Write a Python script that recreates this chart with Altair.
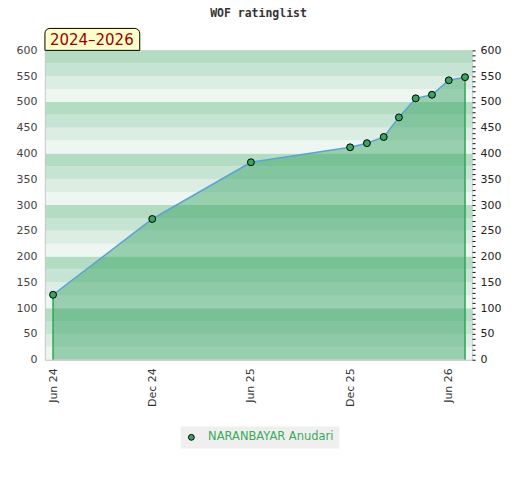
import altair as alt
import pandas as pd

# ---- data ----
dates = ["2024-06-01", "2024-12-01", "2025-06-01", "2025-12-01", "2026-01-01",
         "2026-02-01", "2026-03-01", "2026-04-01", "2026-05-01", "2026-06-01", "2026-07-01"]
ratings = [126, 273, 383, 412, 420, 432, 470, 507, 514, 542, 548]
player = "NARANBAYAR Anudari"
chart_title = "WOF ratinglist"
period_label = ["2024\u20132026"]
x_tick_dates = [(2024, 6), (2024, 12), (2025, 6), (2025, 12), (2026, 6)]
y_major = list(range(0, 601, 50))
y_minor = list(range(0, 601, 10))
band_starts = list(range(0, 600, 25))
band_shade_names = ["q0", "q1", "q2", "q3"]
band_shade_colors = ["#eef6f1", "#dcede3", "#c6e4d3", "#b3dcc3"]

W, H = 428, 310

df = pd.DataFrame({"date": dates, "rating": ratings, "player": player})
edges = df.iloc[[0, len(df) - 1]]
bands = pd.DataFrame({
    "lo": band_starts,
    "hi": [b + 25 for b in band_starts],
    "shade": [band_shade_names[(b // 25) % 4] for b in band_starts],
})
label_df = pd.DataFrame({"txt": period_label})

yscale = alt.Scale(domain=[0, 600], nice=False, zero=True)
xscale = alt.Scale(type="utc",
                   domain=[alt.DateTime(year=2024, month=5, date=17, utc=True),
                           alt.DateTime(year=2026, month=7, date=14, utc=True)])
xaxis = alt.Axis(values=[alt.DateTime(year=y, month=m, date=1, utc=True) for y, m in x_tick_dates],
                 format="%b %y", labelAngle=270, labelAlign="right", labelBaseline="middle",
                 ticks=False, domain=True, domainColor="#cccccc", grid=False,
                 labelPadding=8, labelFontSize=11, labelColor="#333333",
                 labelFont="DejaVu Sans", title=None, zindex=1)
X = alt.X("date:T", scale=xscale, axis=xaxis)

band_layer = alt.Chart(bands).mark_rect().encode(
    x=alt.value(0), x2=alt.value(W),
    y=alt.Y("lo:Q", scale=yscale,
            axis=alt.Axis(values=y_major, ticks=False, domain=True, domainColor="#cccccc",
                          grid=False, labelPadding=8, labelFontSize=11, labelColor="#444444",
                          labelFont="DejaVu Sans", title=None, zindex=1)),
    y2="hi:Q",
    color=alt.Color("shade:N", scale=alt.Scale(domain=band_shade_names, range=band_shade_colors),
                    legend=None),
)

area = alt.Chart(df).mark_area(color="#2fa05d", opacity=0.45).encode(
    x=X, y=alt.Y("rating:Q", scale=yscale, axis=None)
)

line = alt.Chart(df).mark_line(color="#5ba3d6", strokeWidth=1.5).encode(
    x=X, y=alt.Y("rating:Q", scale=yscale, axis=None)
)

edge_rules = alt.Chart(edges).mark_rule(color="#2ea556", strokeWidth=1.5).encode(
    x=X,
    y=alt.Y("rating:Q", scale=yscale,
            axis=alt.Axis(orient="right", values=y_minor,
                          labelExpr="datum.value % 50 == 0 ? datum.label : ''",
                          labelOverlap=False, tickSize=3, tickColor="#111111",
                          domain=False, grid=False, labelPadding=5, labelFontSize=11,
                          labelColor="#222222", labelFont="DejaVu Sans", title=None,
                          zindex=1)),
    y2=alt.datum(0),
)

points = alt.Chart(df).mark_point(filled=True, size=48, stroke="black",
                                  strokeWidth=1, opacity=1).encode(
    x=X, y=alt.Y("rating:Q", scale=yscale, axis=None),
    color=alt.Color("player:N", scale=alt.Scale(range=["#38a560"]),
                    legend=alt.Legend(title=None, orient="none", legendX=136, legendY=377,
                                      fillColor="#efefef", padding=5,
                                      labelColor="#3aaa5c", labelFont="DejaVu Sans",
                                      labelFontSize=11.5, labelOffset=11,
                                      symbolType="circle", symbolSize=34,
                                      symbolStrokeColor="black", symbolStrokeWidth=1,
                                      symbolFillColor="#38a560")),
)

box = alt.Chart(label_df).mark_rect(fill="#ffffcc", stroke="black", strokeWidth=1,
                                    cornerRadiusTopLeft=5, cornerRadiusTopRight=5).encode(
    x=alt.value(0), x2=alt.value(95), y=alt.value(-22), y2=alt.value(0)
)
box_text = alt.Chart(label_df).mark_text(font="DejaVu Sans", fontSize=15, color="#990000",
                                         align="center", baseline="middle").encode(
    x=alt.value(47), y=alt.value(-10), text="txt:N"
)

chart = alt.layer(band_layer, area, line, edge_rules, points, box, box_text).resolve_axis(
    y="independent"
).resolve_scale(
    color="independent"
).properties(
    width=W, height=H,
    title=alt.Title(chart_title, font="DejaVu Sans Mono", fontSize=11.5, fontWeight="bold",
                    color="#333333", anchor="middle", offset=8),
    autosize=alt.AutoSizeParams(type="none"),
    padding={"left": 37, "top": 42, "right": 40, "bottom": 100},
).configure_view(stroke="#cccccc")

chart.save("out.html", embed_options={"renderer": "svg", "actions": False})
